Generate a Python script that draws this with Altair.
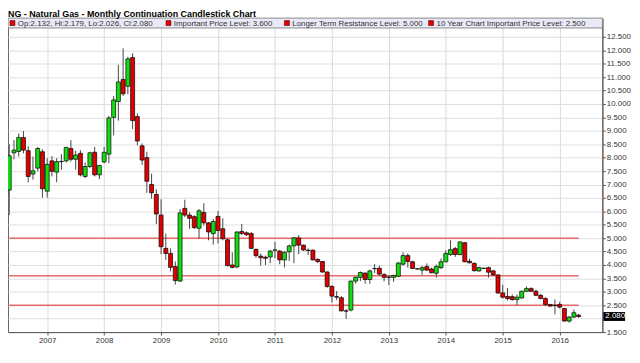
import altair as alt
import pandas as pd
import numpy as np

# ---- data (monthly continuation, May 2006 .. May 2016) ----
months = [str(p) for p in pd.period_range("2006-05", "2016-05", freq="M")]

opens = [6.79, 8.18, 8.23, 8.75, 8.26, 7.39, 7.61, 8.22,
         6.75, 7.88, 7.46, 7.85, 7.88, 8.34, 7.94, 8.16, 7.30, 7.67, 8.20, 7.36,
         7.84, 8.13, 9.50, 10.09, 10.91, 10.66, 11.73, 9.53, 8.44, 8.00, 7.00, 6.63,
         5.86, 4.62, 4.43, 3.94, 3.40, 6.11, 5.86, 5.80, 5.37, 5.96, 5.57, 5.17,
         5.81, 5.35, 4.94, 4.00, 3.93, 5.25, 5.20, 5.17, 4.58, 4.33, 4.29, 4.30,
         4.55, 4.52, 4.19, 4.49, 4.71, 5.01, 4.74, 4.55, 4.55, 4.21, 4.13, 3.74,
         3.20, 2.82, 2.78, 2.29, 2.32, 3.40, 3.54, 3.70, 3.46, 3.86, 3.88, 3.64,
         3.54, 3.54, 3.58, 4.03, 4.35, 4.12, 3.85, 3.81, 3.94, 3.85, 3.69, 3.90,
         4.12, 4.39, 4.61, 4.39, 4.83, 4.14, 4.06, 3.78, 3.87, 3.90, 3.78, 3.63,
         2.96, 2.83, 2.82, 2.71, 2.77, 3.02, 3.12, 3.02, 2.87, 2.75, 2.53, 2.50,
         2.53, 2.38, 1.91, 2.06, 2.132]

highs = [8.50, 8.65, 8.90, 8.99, 8.43, 8.04, 8.40, 8.31,
         7.98, 8.06, 7.98, 8.13, 8.40, 8.65, 8.26, 8.28, 7.82, 8.22, 8.40, 7.73,
         8.40, 9.56, 10.30, 11.46, 12.07, 11.76, 11.89, 9.65, 8.53, 8.22, 7.40, 6.82,
         6.45, 5.17, 4.62, 4.13, 6.08, 6.43, 5.96, 5.85, 6.08, 6.30, 5.60, 5.72,
         6.02, 5.74, 4.98, 4.47, 5.25, 5.53, 5.25, 5.23, 4.62, 4.43, 4.35, 4.56,
         4.86, 4.56, 4.52, 4.76, 5.04, 5.11, 4.76, 4.62, 4.58, 4.25, 4.15, 3.76,
         3.25, 3.03, 2.84, 2.36, 3.42, 3.57, 3.76, 3.72, 3.82, 4.03, 3.98, 3.70,
         3.62, 3.64, 4.12, 4.47, 4.43, 4.16, 3.88, 3.97, 4.06, 3.90, 4.02, 4.24,
         4.55, 4.92, 4.67, 4.88, 4.86, 4.24, 4.10, 3.94, 3.90, 3.94, 3.82, 3.65,
         3.26, 3.14, 2.90, 2.90, 3.04, 3.20, 3.17, 3.08, 2.92, 2.80, 2.55, 2.71,
         2.63, 2.40, 2.10, 2.34, 2.179]

lows = [5.86, 7.94, 8.04, 8.16, 7.08, 7.18, 7.49, 6.51,
        6.51, 7.30, 7.08, 7.55, 7.82, 7.85, 7.55, 7.30, 7.24, 7.61, 7.30, 7.20,
        7.79, 7.79, 8.83, 9.38, 10.30, 10.36, 9.07, 8.46, 7.73, 6.69, 6.47, 5.53,
        4.40, 4.19, 3.76, 3.27, 3.37, 5.78, 5.35, 5.35, 4.98, 5.47, 4.92, 4.76,
        4.80, 4.92, 3.94, 3.88, 3.88, 5.13, 5.08, 4.59, 4.27, 3.98, 4.00, 4.07,
        4.25, 4.03, 3.91, 4.15, 4.07, 4.40, 4.52, 4.37, 4.17, 4.07, 3.70, 3.15,
        2.60, 2.69, 2.27, 1.99, 2.27, 3.30, 3.40, 3.30, 3.30, 3.70, 3.60, 3.39,
        3.25, 3.37, 3.55, 3.97, 3.90, 3.85, 3.82, 3.63, 3.78, 3.69, 3.53, 3.85,
        4.10, 4.34, 4.30, 4.36, 4.10, 4.06, 3.75, 3.75, 3.85, 3.53, 3.60, 2.92,
        2.75, 2.68, 2.67, 2.50, 2.75, 3.00, 3.00, 2.84, 2.72, 2.47, 2.43, 2.16,
        2.38, 1.89, 1.85, 2.03, 2.026]

closes = [8.07, 8.28, 8.75, 8.28, 7.30, 7.51, 8.34, 6.84,
          7.75, 7.49, 7.85, 7.86, 8.38, 7.94, 8.10, 7.36, 7.67, 8.18, 7.36, 7.71,
          8.20, 9.48, 10.15, 10.82, 10.38, 11.68, 9.38, 8.62, 7.91, 7.12, 6.69, 5.90,
          4.68, 4.43, 3.91, 3.42, 5.94, 5.86, 5.74, 5.39, 6.02, 5.57, 5.23, 5.62,
          5.29, 4.98, 3.98, 3.91, 5.23, 5.17, 5.13, 4.62, 4.35, 4.27, 4.25, 4.52,
          4.56, 4.19, 4.47, 4.71, 5.01, 4.74, 4.56, 4.54, 4.19, 4.13, 3.74, 3.20,
          2.84, 2.80, 2.29, 2.28, 3.40, 3.54, 3.72, 3.46, 3.78, 3.87, 3.66, 3.54,
          3.55, 3.61, 4.07, 4.35, 4.13, 3.87, 3.86, 3.90, 3.81, 3.71, 3.94, 4.12,
          4.43, 4.57, 4.39, 4.86, 4.12, 4.08, 3.79, 3.90, 3.88, 3.73, 3.63, 2.96,
          2.80, 2.75, 2.71, 2.80, 3.02, 3.12, 3.02, 2.87, 2.75, 2.53, 2.47, 2.49,
          2.43, 1.91, 2.06, 2.22, 2.080]

level_names = ["Important Price Level", "Longer Term Resistance Level",
               "10 Year Chart Important Price Level"]
level_values = [3.600, 5.000, 2.500]

year_labels = list(range(2007, 2017))
price_ticks = [1.5 + 0.5 * i for i in range(23)]

TITLE = "NG - Natural Gas - Monthly Continuation Candlestick Chart"

# ---- frames ----
per = pd.PeriodIndex(months, freq="M")
df = pd.DataFrame({
    "month": months,
    "m": (per.year - 2007) * 12 + (per.month - 1),
    "open": opens, "high": highs, "low": lows, "close": closes,
})
df["dir"] = np.where(df["close"] >= df["open"], "up", "down")

lv = pd.DataFrame({"level": level_values, "name": level_names,
                   "m0": df["m"].iloc[0], "m1": df["m"].iloc[-1]})
last = df.iloc[[-1]].copy()
last["label"] = last["close"].map(lambda v: f"{v:.3f}")

FONT = "Liberation Sans"
W, H = 602, 318
xscale = alt.Scale(domain=[-8.26, 117.0], nice=False, zero=False)
yscale = alt.Scale(domain=[1.5, 13.2], nice=False, zero=False)

xaxis = alt.Axis(values=[(y - 2007) * 12 for y in year_labels],
                 labelExpr="toString(2007 + datum.value / 12)",
                 title=None, grid=True, gridColor="#d9d9d9", gridWidth=1,
                 domainColor="#555", tickColor="#555", tickSize=3,
                 labelPadding=2, labelFont=FONT, labelFontSize=8,
                 labelColor="#333")
yaxis = alt.Axis(orient="right", values=price_ticks,
                 labelExpr="datum.value == 2 ? '' : format(datum.value, '.3f')",
                 title=None, grid=True, gridColor="#dedede", gridWidth=1,
                 domainColor="#555", tickColor="#555", tickSize=3,
                 labelPadding=1, labelFont=FONT, labelFontSize=8,
                 labelColor="#333")

refs = alt.Chart(lv).mark_rule(color="#e85a5a", strokeWidth=1.5, opacity=0.9).encode(
    x=alt.X("m0:Q", scale=xscale, axis=xaxis),
    x2="m1:Q",
    y=alt.Y("level:Q", scale=yscale, axis=yaxis),
)

wicks = alt.Chart(df).mark_rule(color="#444", strokeWidth=1).encode(
    x=alt.X("m:Q", scale=xscale, axis=xaxis),
    y=alt.Y("low:Q", scale=yscale, axis=yaxis),
    y2="high:Q",
)

bodies = alt.Chart(df).transform_calculate(
    xl="datum.m - 0.42", xr="datum.m + 0.42"
).mark_rect(stroke="black", strokeWidth=0.7).encode(
    x=alt.X("xl:Q", scale=xscale, axis=xaxis),
    x2="xr:Q",
    y=alt.Y("open:Q", scale=yscale, axis=yaxis),
    y2="close:Q",
    fill=alt.Fill("dir:N", scale=alt.Scale(domain=["up", "down"],
                                           range=["#11dd11", "#e00000"]),
                  legend=None),
)

# last-price badge on the right axis
badge = alt.Chart(last).mark_rule(color="black", strokeWidth=9).encode(
    x=alt.value(W + 1), x2=alt.value(W + 23),
    y=alt.Y("close:Q", scale=yscale, axis=yaxis),
)
badge_txt = alt.Chart(last).mark_text(
    align="left", baseline="middle", font=FONT, fontSize=8, color="white"
).encode(
    x=alt.value(W + 3),
    y=alt.Y("close:Q", scale=yscale, axis=yaxis),
    text="label:N",
)

# legend strip at top of plot
one = pd.DataFrame({"k": [0]})
legend_box = alt.Chart(one).mark_rect(fill="#e9e9f7", stroke="#8a8a8a", strokeWidth=1).encode(
    x=alt.value(0), x2=alt.value(W), y=alt.value(0), y2=alt.value(10)
)

leg_texts = [
    f"Op:{opens[-1]:.3f}, Hi:{highs[-1]:.3f}, Lo:{lows[-1]:.3f}, Cl:{closes[-1]:.3f}",
] + [f"{n}: {v:.3f}" for n, v in zip(level_names, level_values)]
leg_x = [2, 160, 280, 426]

leg_layers = []
for tx, lx in zip(leg_texts, leg_x):
    leg_layers.append(
        alt.Chart(one).mark_rect(fill="#e00000", stroke="#600", strokeWidth=0.6).encode(
            x=alt.value(lx), x2=alt.value(lx + 5), y=alt.value(2.5), y2=alt.value(7.5)
        )
    )
    leg_layers.append(
        alt.Chart(one).mark_text(align="left", baseline="middle", font=FONT,
                                 fontSize=8, color="#333").encode(
            x=alt.value(lx + 8), y=alt.value(5.5), text=alt.value(tx)
        )
    )

title_mark = alt.Chart(one).mark_text(
    align="left", baseline="alphabetic", font=FONT, fontSize=9,
    fontWeight="bold", color="#000"
).encode(x=alt.value(0), y=alt.value(-1.5), text=alt.value(TITLE))

chart = alt.layer(refs, wicks, bodies, legend_box, *leg_layers, badge, badge_txt,
                  title_mark).properties(
    width=W, height=H,
    autosize=alt.AutoSizeParams(type="none"),
    padding={"left": 0, "top": 8, "right": 30, "bottom": 22},
    background="white",
).configure_view(stroke="#666", strokeWidth=1)

chart.save("out.html", embed_options={"renderer": "svg", "actions": False})
